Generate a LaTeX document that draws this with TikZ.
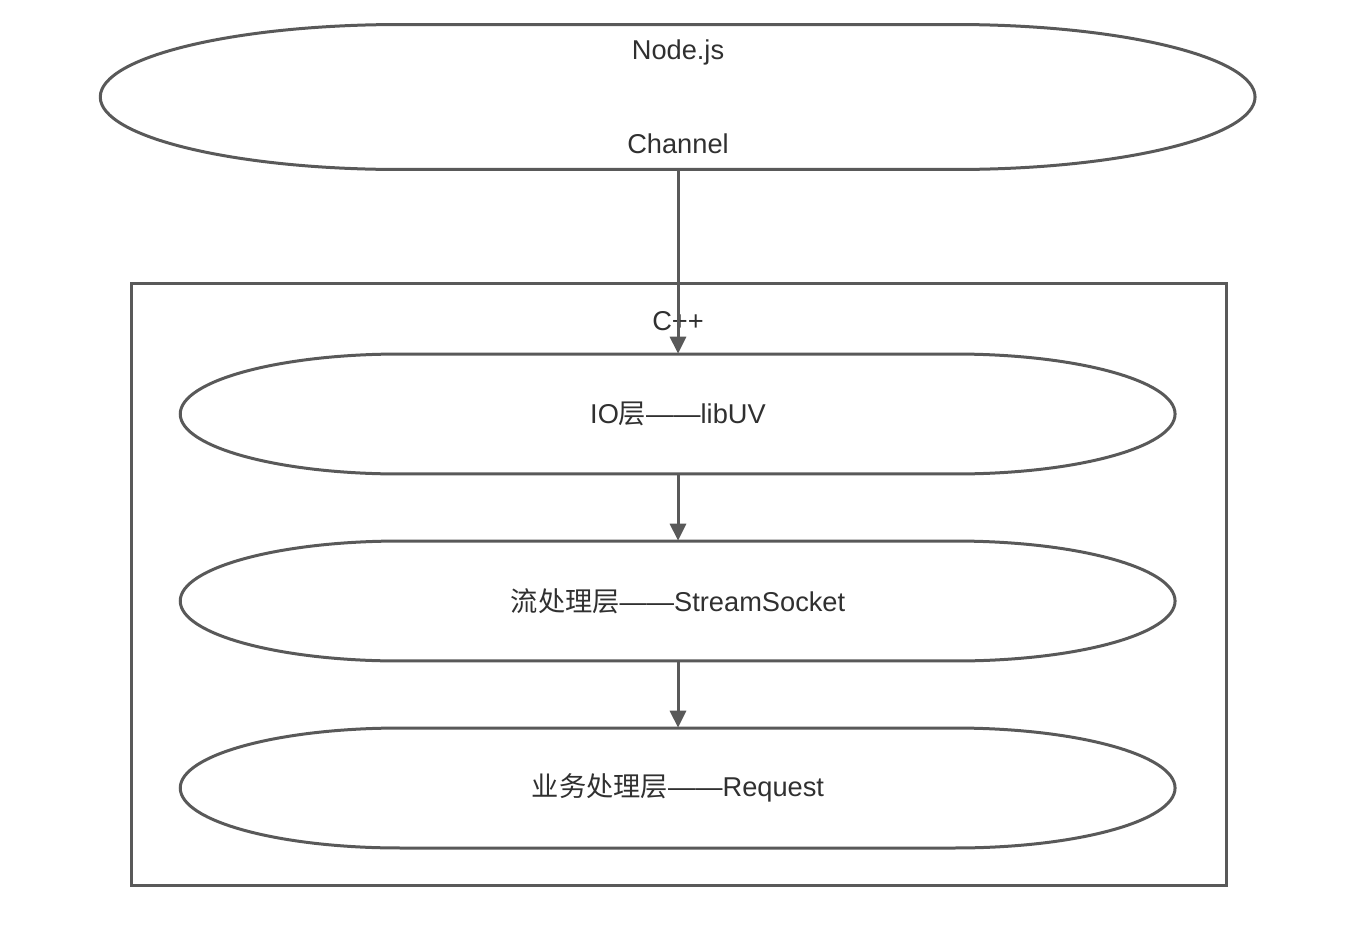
\documentclass[tikz,border=0pt]{standalone}
\usepackage{fontspec}
\setmainfont{Liberation Sans}
\newfontfamily\cjk{Noto Sans CJK SC}
\usepackage{xcolor}
\usetikzlibrary{arrows.meta,positioning}

\definecolor{linegray}{HTML}{595959}
\definecolor{textgray}{HTML}{303030}

\begin{document}
\begin{tikzpicture}[x=0.02cm, y=-0.02cm,
  every node/.style={font=\fontsize{15.5}{18}\selectfont, text=textgray},
  outline/.style={draw=linegray, line width=0.06cm},
  flow/.style={draw=linegray, line width=0.06cm, -{Triangle[length=0.34cm,width=0.32cm]}},
  layer/.style={minimum width=19.9cm, minimum height=2.4cm, inner sep=0pt}]
  \useasboundingbox (0,0) rectangle (1362,930);

  \node[minimum width=23.1cm, minimum height=2.9cm, inner sep=0pt, align=center]
    (nodejs) at (678,97) {\raisebox{-0.06cm}{Node.js}\\[1.3cm]Channel};
  \node[outline, minimum width=21.92cm, minimum height=12.06cm] (cpp) at (679,584.5) {};
  \node (cpplabel) at (678,321) {C++};
  \node[layer] (io) at (678,414) {IO{\cjk 层}——libUV};
  \node[layer] (stream) at (678,601) {{\cjk 流处理层}——StreamSocket};
  \node[layer] (request) at (678,788) {{\cjk 业务处理层}——Request};

  % capsule outlines round each layer
  \foreach \n/\rx/\ry in {nodejs/6/1.45, io/4.4/1.2, stream/4.4/1.2, request/4.4/1.2}
    \draw[outline] (\n.west) arc[start angle=180, end angle=90, x radius=\rx cm, y radius=\ry cm]
      -- ++(11.1cm,0) arc[start angle=90, end angle=-90, x radius=\rx cm, y radius=\ry cm]
      -- ++(-11.1cm,0) arc[start angle=270, end angle=180, x radius=\rx cm, y radius=\ry cm] -- cycle;

  \draw[flow] (nodejs.south) -- (io.north);
  \draw[flow] (io.south) -- (stream.north);
  \draw[flow] (stream.south) -- (request.north);
\end{tikzpicture}
\end{document}
